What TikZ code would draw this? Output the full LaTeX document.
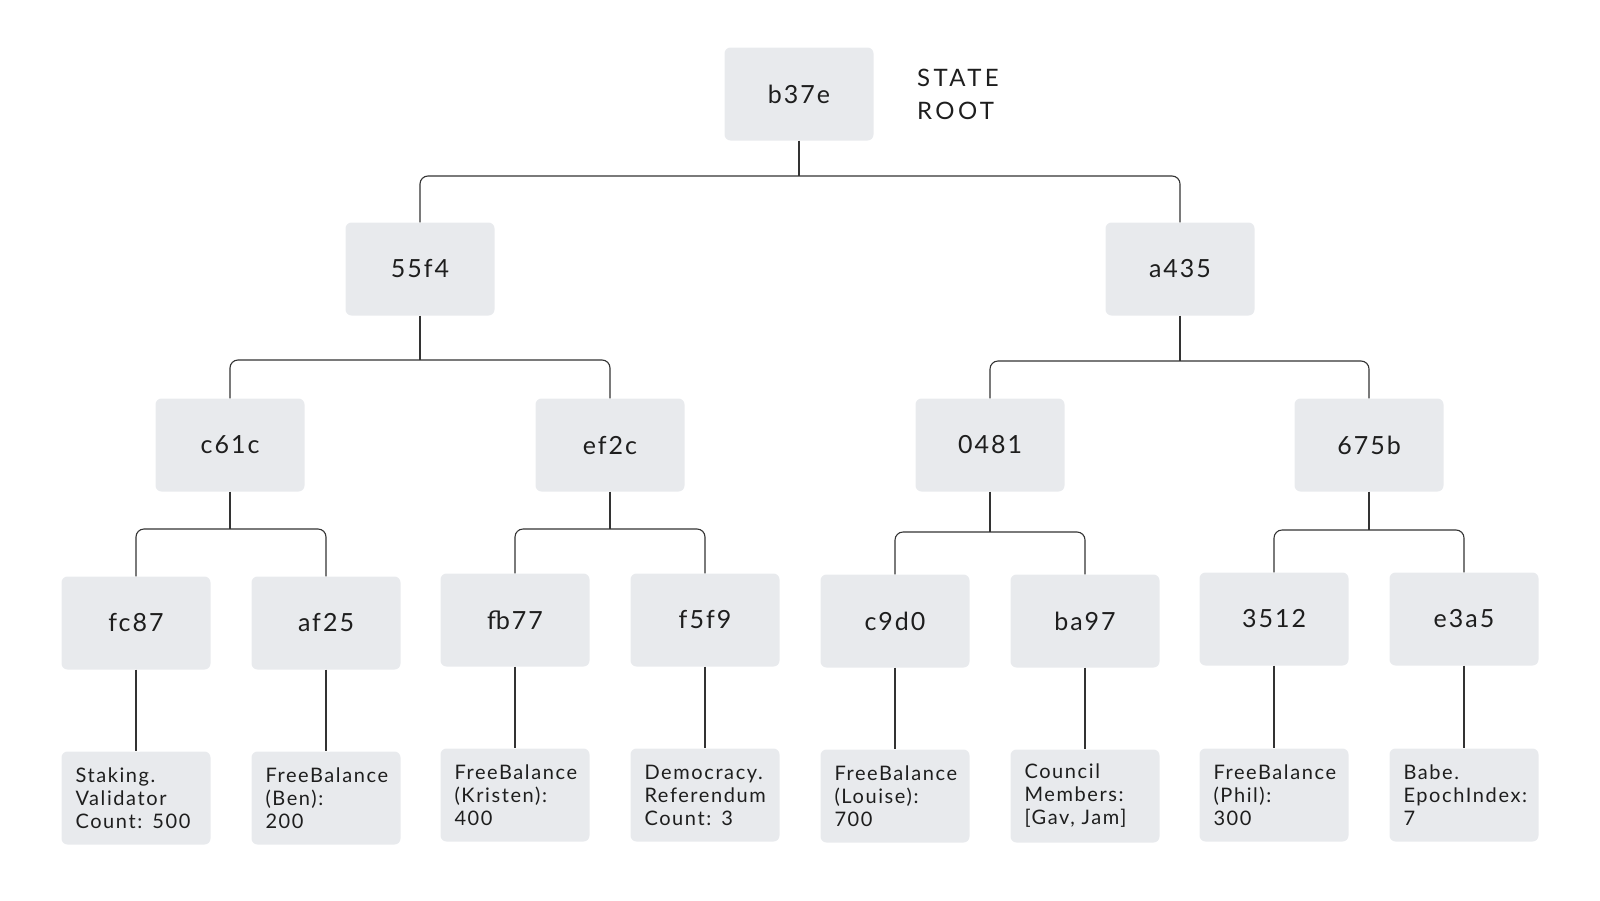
\documentclass[tikz,border=0pt]{standalone}
\usepackage{fontspec}
\setmainfont{Lato}
\newfontfamily\hashfont[LetterSpace=8]{Lato}
\newfontfamily\leaffont[LetterSpace=8]{Lato}
\newfontfamily\titlefont[LetterSpace=14]{Lato}
\definecolor{boxgrey}{HTML}{E8EAED}
\definecolor{inkgrey}{HTML}{1E1E1E}
\definecolor{wiregrey}{HTML}{333333}

\tikzset{
  hashbox/.style={fill=boxgrey, rounded corners=6pt, minimum width=149pt, minimum height=93pt,
    inner sep=0pt, text=inkgrey, font=\hashfont\fontsize{25}{30}\selectfont},
  leafbox/.style={fill=boxgrey, rounded corners=6pt, minimum width=149pt, minimum height=93pt,
    inner xsep=14pt, inner ysep=0pt, text width=121pt, align=left, text=inkgrey,
    font=\leaffont\fontsize{20}{23}\selectfont},
  titletext/.style={inner sep=0pt, align=left, text=inkgrey, font=\titlefont\fontsize{24}{33}\selectfont},
  wire/.style={draw=wiregrey, line width=1.1pt},
  bar/.style={wire, rounded corners=8pt},
}

\begin{document}
\begin{tikzpicture}[x=1pt,y=-1pt]
	\useasboundingbox (0,0) rectangle (1600,900);
	% root and inner hashes
	\node[hashbox] (root) at (799,94) {b37e};
	\node[titletext, anchor=west] (title) at (917,94) {STATE\\ROOT};
	\node[hashbox] (h55f4) at (420,269) {55f4};
	\node[hashbox] (ha435) at (1180,269) {a435};
	\node[hashbox] (hc61c) at (230,445) {c61c};
	\node[hashbox] (hef2c) at (610,445) {ef2c};
	\node[hashbox] (h0481) at (990,445) {0481};
	\node[hashbox] (h675b) at (1369,445) {675b};
	% bottom hashes
	\node[hashbox] (hfc87) at (136,623) {fc87};
	\node[hashbox] (haf25) at (326,623) {af25};
	\node[hashbox] (hfb77) at (515,620) {fb77};
	\node[hashbox] (hf5f9) at (705,620) {f5f9};
	\node[hashbox] (hc9d0) at (895,621) {c9d0};
	\node[hashbox] (hba97) at (1085,621) {ba97};
	\node[hashbox] (h3512) at (1274,619) {3512};
	\node[hashbox] (he3a5) at (1464,619) {e3a5};
	% values
	\node[leafbox] (lfc87) at (136,798) {Staking.\\Validator\\Count: 500};
	\node[leafbox] (laf25) at (326,798) {FreeBalance\\(Ben):\\200};
	\node[leafbox] (lfb77) at (515,795) {FreeBalance\\(Kristen):\\400};
	\node[leafbox] (lf5f9) at (705,795) {Democracy.\\Referendum\\Count: 3};
	\node[leafbox] (lc9d0) at (895,796) {FreeBalance\\(Louise):\\700};
	\node[leafbox] (lba97) at (1085,796) {Council\\Members:\\{[Gav, Jam]}};
	\node[leafbox] (l3512) at (1274,795) {FreeBalance\\(Phil):\\300};
	\node[leafbox] (le3a5) at (1464,795) {Babe.\\EpochIndex:\\7};
	% junctions
	\coordinate (jroot) at (root.south |- 0,176);
	\coordinate (j55f4) at (h55f4.south |- 0,360);
	\coordinate (ja435) at (ha435.south |- 0,361);
	\coordinate (jc61c) at (hc61c.south |- 0,529);
	\coordinate (jef2c) at (hef2c.south |- 0,529);
	\coordinate (j0481) at (h0481.south |- 0,532);
	\coordinate (j675b) at (h675b.south |- 0,530);
	% branches
	\draw[wire] (root.south) -- (jroot);
	\draw[bar] (h55f4.north) |- (jroot) -| (ha435.north);
	\draw[wire] (h55f4.south) -- (j55f4);
	\draw[bar] (hc61c.north) |- (j55f4) -| (hef2c.north);
	\draw[wire] (ha435.south) -- (ja435);
	\draw[bar] (h0481.north) |- (ja435) -| (h675b.north);
	\draw[wire] (hc61c.south) -- (jc61c);
	\draw[bar] (hfc87.north) |- (jc61c) -| (haf25.north);
	\draw[wire] (hef2c.south) -- (jef2c);
	\draw[bar] (hfb77.north) |- (jef2c) -| (hf5f9.north);
	\draw[wire] (h0481.south) -- (j0481);
	\draw[bar] (hc9d0.north) |- (j0481) -| (hba97.north);
	\draw[wire] (h675b.south) -- (j675b);
	\draw[bar] (h3512.north) |- (j675b) -| (he3a5.north);
	% hash to value
	\foreach \k in {fc87,af25,fb77,f5f9,c9d0,ba97,3512,e3a5}
		\draw[wire] (h\k) -- (l\k);
\end{tikzpicture}
\end{document}
